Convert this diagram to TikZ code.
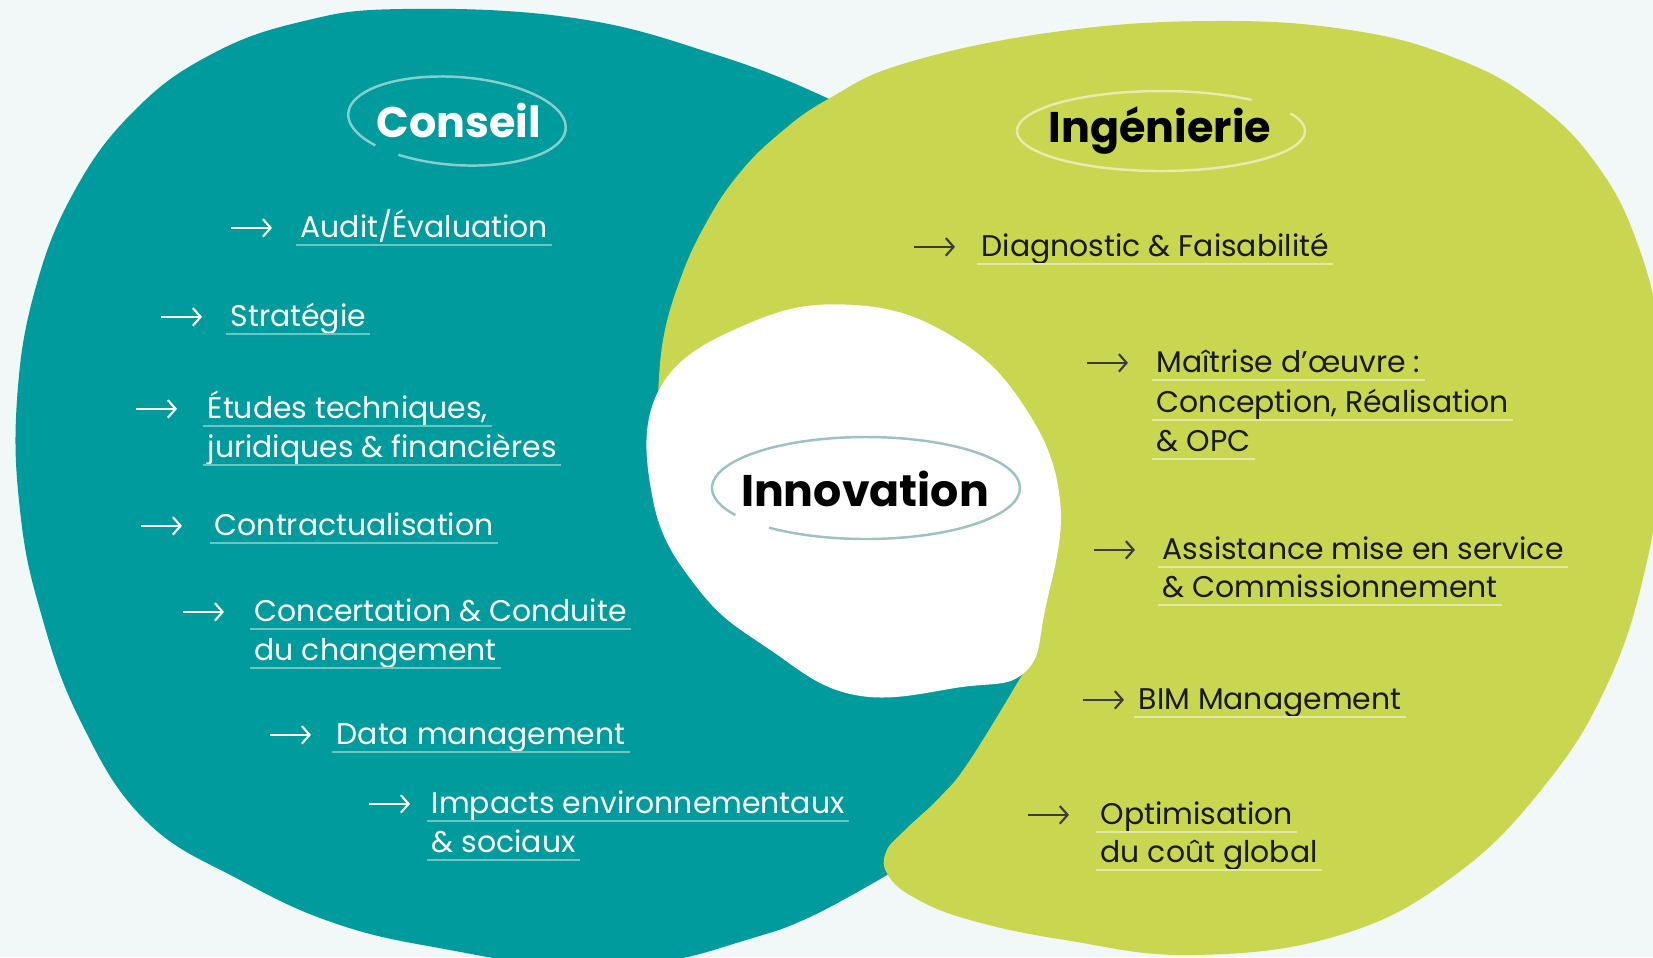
\documentclass[tikz,border=0pt]{standalone}
\usepackage{fontspec}
\setmainfont{Poppins}
\usetikzlibrary{arrows.meta}
\definecolor{bgc}{HTML}{F2F7F7}
\definecolor{tealc}{HTML}{009B9D}
\definecolor{limec}{HTML}{C8D650}
\definecolor{ink}{HTML}{1A1A1A}
\definecolor{ulTeal}{HTML}{6CC4C3}
\definecolor{ulLime}{HTML}{E2E9A2}
\definecolor{ringC}{HTML}{86CFCD}
\definecolor{ringI}{HTML}{E5ECAE}
\definecolor{ringN}{HTML}{9EC1C2}

\begin{document}
\begin{tikzpicture}[x=1cm, y=-1cm,
  itemC/.style={anchor=base west, inner sep=0pt, text=white, font=\fontsize{8.5}{10}\selectfont},
  itemI/.style={itemC, text=ink},
  ulC/.style={draw=ulTeal, line width=.7pt},
  ulI/.style={draw=ulLime, line width=.7pt},
  arrC/.style={draw=white, line width=.6pt, -{Straight Barb[length=2.2pt,width=5pt]}},
  arrI/.style={arrC, draw=ink!85},
  head/.style={anchor=base, inner sep=0pt, font=\fontsize{12.2}{14}\selectfont\bfseries},
  ring/.style={line width=.7pt}]
\useasboundingbox (0,0) rectangle (16.53,9.57);
\fill[bgc] (0,0) rectangle (16.53,9.57);
\clip (0,0) rectangle (16.53,9.57);

\fill[tealc] plot[smooth, tension=.7] coordinates {(8.87,8.75) (8.10,9.17) (7.46,9.40) (6.6,9.62) (5.6,9.66) (4.5,9.50) (3.40,9.25) (2.40,8.80) (1.45,8.20) (0.80,7.20) (0.40,6.10) (0.20,5.10) (0.17,4.00) (0.35,2.90) (0.75,1.90) (1.35,1.10) (2.10,0.55) (3.00,0.22) (4.02,0.09) (5.74,0.18) (7.17,0.55) (8.27,0.98) (8.8,1.3)}
  -- (9.6,2.2) -- (10.45,4.6) -- (10.45,6.5) -- (9.7,8.25) -- cycle;
\fill[limec] plot[smooth, tension=.7] coordinates {(6.58,4.00) (6.63,3.40) (6.80,2.80) (7.05,2.25) (7.38,1.75) (7.80,1.33) (8.30,0.98) (9.06,0.63) (10.54,0.32) (12.12,0.21) (13.50,0.30) (14.55,0.58) (15.35,1.02) (15.97,1.65) (16.38,2.45) (16.60,3.40) (16.62,4.50) (16.45,5.70) (16.07,6.85) (15.45,7.85) (14.55,8.75) (13.40,9.35) (11.93,9.55) (10.65,9.40) (9.70,9.20) (9.15,8.98) (8.88,8.75) (8.86,8.52) (9.05,8.30) (9.40,7.97) (9.70,7.60) (10.25,6.70)}
  -- (10.0,6.0) -- (7.0,4.3) -- cycle;
\fill[white] plot[smooth cycle, tension=.7] coordinates {(10.60,5.00) (10.45,6.10) (10.25,6.72) (9.62,6.87) (8.55,6.95) (7.69,6.49) (6.99,5.90) (6.53,5.00) (6.60,3.88) (7.52,3.22) (8.55,3.05) (9.50,3.35) (10.22,4.03)};

\draw[ring, ringC, shift={(4.57,1.21)}, rotate=-4] (121:1.09 and .44) arc[start angle=121, end angle=-223, x radius=1.09, y radius=.44];
\draw[ring, ringI, shift={(11.61,1.31)}] (-26:1.44 and .40) arc[start angle=-26, end angle=309, x radius=1.44, y radius=.40];
\draw[ring, ringN, shift={(8.66,4.88)}] (129:1.54 and .51) arc[start angle=129, end angle=-212, x radius=1.54, y radius=.51];

\node[head, white] (conseil) at (4.59,1.37) {Conseil};
\node[head, black] (inge) at (11.60,1.42) {Ingénierie};
\node[head, black, font=\fontsize{12.6}{15}\selectfont\bfseries] (innov) at (8.65,5.06) {Innovation};

\foreach \nm/\x/\y/\txt in {au/3.00/2.37/{Audit/Évaluation}, st/2.30/3.26/Stratégie, eta/2.07/4.18/{Études techniques,}, etb/2.07/4.57/{juridiques \& financières}, co/2.14/5.35/Contractualisation, cca/2.54/6.21/{Concertation \& Conduite}, ccb/2.54/6.60/du changement, da/3.36/7.44/Data management, ima/4.31/8.13/Impacts environnementaux, imb/4.31/8.52/{\& sociaux}}
{
 \node[itemC] (\nm) at (\x,\y) {\txt};
 \draw[ulC] ([xshift=-1pt,yshift=-2.2pt]\nm.base west) -- ([xshift=1pt,yshift=-2.2pt]\nm.base east);
}
\foreach \nm/\x/\y/\txt in {di/9.81/2.56/{Diagnostic \& Faisabilité}, maa/11.56/3.72/{Maîtrise d’œuvre :}, mab/11.56/4.12/{Conception, Réalisation}, mac/11.56/4.51/{\& OPC}, asa/11.62/5.59/{Assistance mise en service}, asb/11.62/5.97/{\& Commissionnement}, bi/11.38/7.09/{BIM Management}, opa/11.00/8.24/Optimisation, opb/11.00/8.62/{du coût global}}
{
 \node[itemI] (\nm) at (\x,\y) {\txt};
 \draw[ulI] ([xshift=-1pt,yshift=-2.2pt]\nm.base west) -- ([xshift=1pt,yshift=-2.2pt]\nm.base east);
}

\foreach \nm/\d in {au/.69, st/.69, eta/.71, co/.73, cca/.71, da/.66, ima/.62}
 \draw[arrC] ([xshift=-\d cm, yshift=2.6pt]\nm.base west) -- ++(.41,0);
\foreach \nm/\d in {di/.67, maa/.69, asa/.68, bi/.55, opa/.72}
 \draw[arrI] ([xshift=-\d cm, yshift=2.6pt]\nm.base west) -- ++(.41,0);
\end{tikzpicture}
\end{document}
